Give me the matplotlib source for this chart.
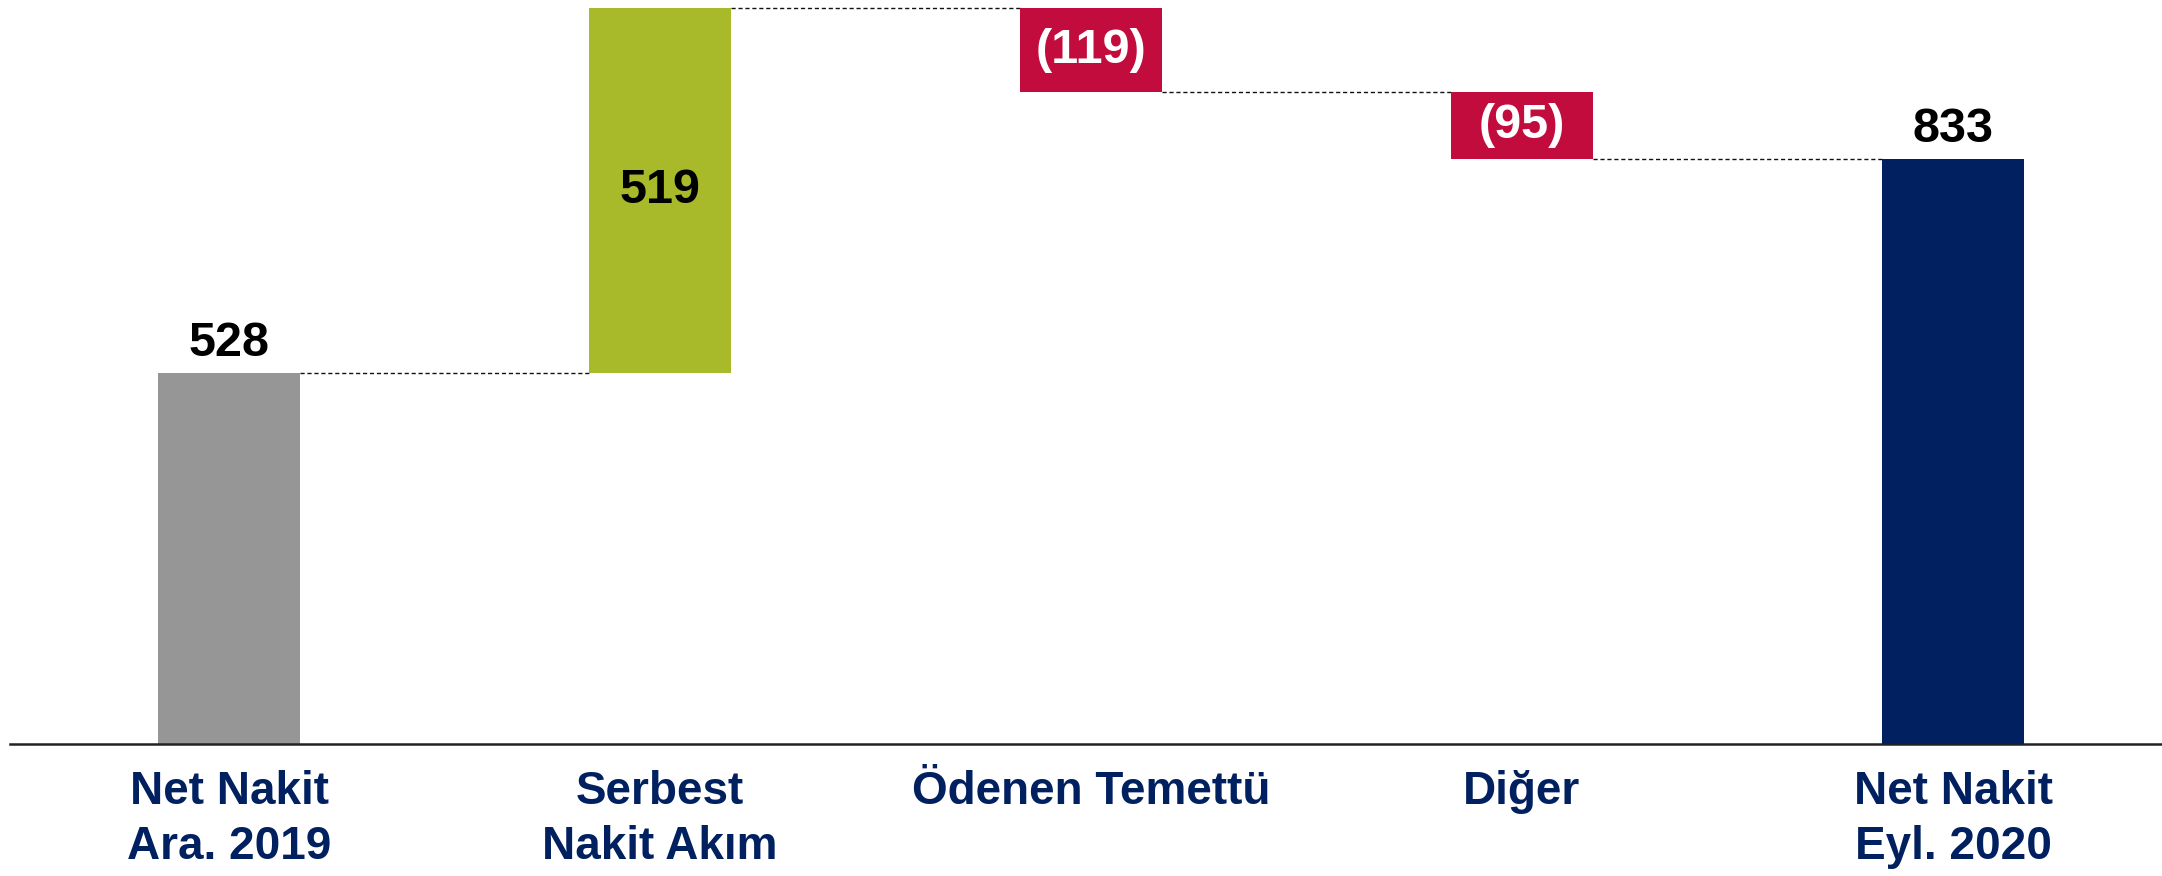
import matplotlib.pyplot as plt

# waterfall data
categories = ["Net Nakit\nAra. 2019", "Serbest\nNakit Akım", "Ödenen Temettü", "Diğer", "Net Nakit\nEyl. 2020"]
changes = [528, 519, -119, -95, 833]
kinds = ["total", "delta", "delta", "delta", "total"]
labels = ["528", "519", "(119)", "(95)", "833"]

colors = {"start": "#969696", "up": "#A8B92A", "down": "#C30C3E", "end": "#002060"}
navy = "#002060"

plt.rcParams['font.family'] = ['Liberation Sans', 'DejaVu Sans']

fig = plt.figure(figsize=(21.62, 8.76), dpi=100)
ax = fig.add_axes([10 / 2162, (876 - 744) / 876, 1 - 10 / 2162, 744 / 876])

width = 0.33
running = 0
bottoms, heights, tops = [], [], []
for i, (v, k) in enumerate(zip(changes, kinds)):
    if k == "total":
        b, h = 0, v
        running = v
    else:
        if v >= 0:
            b, h = running, v
        else:
            b, h = running + v, -v
        running += v
    bottoms.append(b)
    heights.append(h)
    tops.append(running)

for i in range(len(categories)):
    if i == 0:
        c = colors["start"]
    elif i == len(categories) - 1:
        c = colors["end"]
    elif changes[i] >= 0:
        c = colors["up"]
    else:
        c = colors["down"]
    ax.bar(i, heights[i], bottom=bottoms[i], width=width, color=c, zorder=2)

    if kinds[i] == "total":
        ax.text(i, bottoms[i] + heights[i] + 10, labels[i], ha='center', va='bottom',
                fontsize=35, fontweight='bold', color='black')
    else:
        tc = 'black' if changes[i] >= 0 else 'white'
        ax.text(i, bottoms[i] + heights[i] / 2, labels[i], ha='center', va='center',
                fontsize=35, fontweight='bold', color=tc)

# dashed connectors between bars
for i in range(len(categories) - 1):
    ax.plot([i + width / 2, i + 1 - width / 2], [tops[i], tops[i]],
            color='#111111', linestyle=(0, (3, 2)), linewidth=1.0, zorder=1)

ax.set_xlim((10 - 229) / 431, (2162 - 229) / 431)
ax.set_ylim(0, 744 / 0.7027)

for s in ['top', 'right', 'left']:
    ax.spines[s].set_visible(False)
ax.spines['bottom'].set_color('#222222')
ax.spines['bottom'].set_linewidth(1.8)
ax.set_yticks([])
ax.set_xticks(range(len(categories)))
ax.set_xticklabels(categories, fontsize=33, fontweight='bold', color=navy, linespacing=1.32)
ax.tick_params(axis='x', length=0, pad=19)

fig.savefig("out.png", dpi=100, facecolor='white')
